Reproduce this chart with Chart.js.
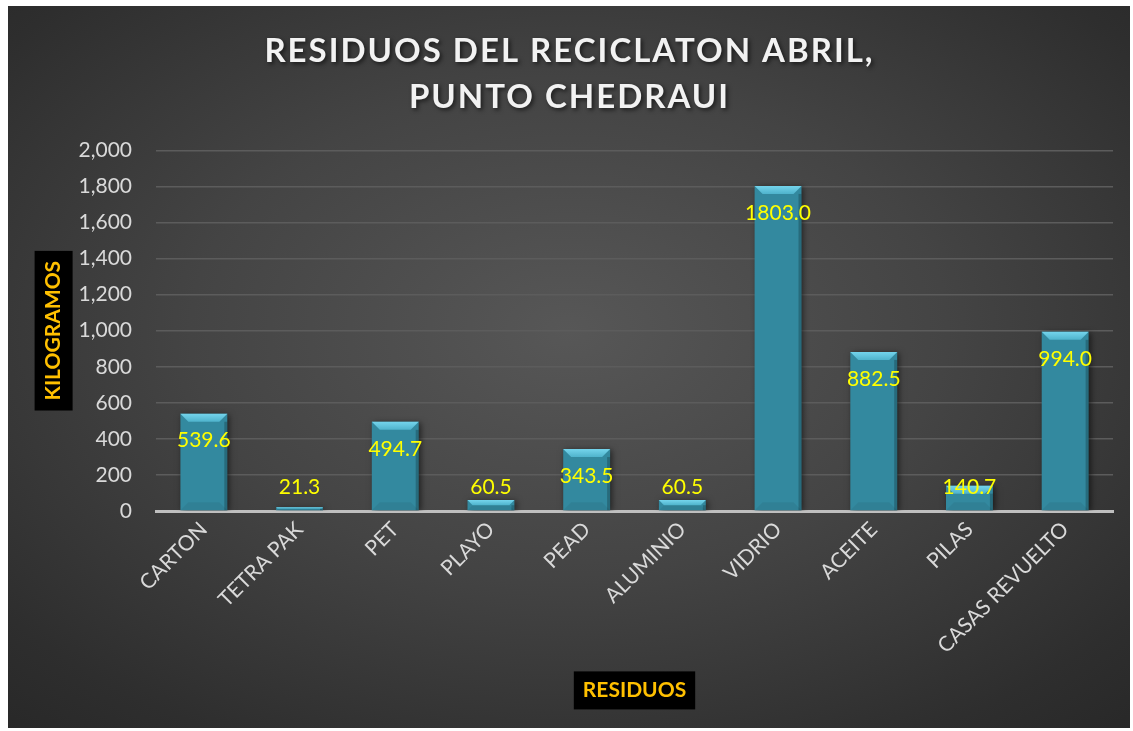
<!DOCTYPE html>
<html>
<head>
<meta charset="utf-8">
<script src="https://cdn.jsdelivr.net/npm/chart.js@4"></script>
<style>
  body { margin: 0; background: #ffffff; }
  #wrap {
    position: absolute; left: 8px; top: 6px; width: 1122px; height: 722px;
    background: radial-gradient(ellipse 75% 75% at 50% 45%, #575757 0%, #444444 45%, #2e2e2e 85%, #282828 100%);
  }
</style>
</head>
<body>
<div id="wrap"><canvas id="chart"></canvas></div>
<script>
const categorias = ["CARTON", "TETRA PAK", "PET", "PLAYO", "PEAD", "ALUMINIO", "VIDRIO", "ACEITE", "PILAS", "CASAS REVUELTO"];
const kilogramos = [539.6, 21.3, 494.7, 60.5, 343.5, 60.5, 1803.0, 882.5, 140.7, 994.0];
const titulo = ["RESIDUOS DEL RECICLATON ABRIL,", "PUNTO CHEDRAUI"];
const tituloY = "KILOGRAMOS";
const tituloX = "RESIDUOS";

const fuente = "Lato";

// espaciado y sombra del titulo
const tituloEspaciado = {
  id: "tituloEspaciado",
  afterInit(chart) {
    const tb = chart.titleBlock;
    if (!tb) return;
    const orig = tb.draw.bind(tb);
    tb.draw = function (area) {
      const ctx = chart.ctx;
      ctx.save();
      ctx.letterSpacing = "2px";
      ctx.shadowColor = "rgba(0,0,0,0.6)";
      ctx.shadowBlur = 4;
      ctx.shadowOffsetX = 2;
      ctx.shadowOffsetY = 2;
      orig(area);
      ctx.restore();
    };
  }
};

// cajas negras detras de los titulos de los ejes
const cajasTitulos = {
  id: "cajasTitulos",
  beforeDraw(chart) {
    const ctx = chart.ctx;
    ctx.save();
    ctx.font = "bold 21px " + fuente;
    const y = chart.scales.y;
    const lhY = 21 * 1.2;
    const cxY = y.left + y.options.title.padding.top + lhY / 2;
    const cyY = (y.top + y.bottom) / 2;
    const wY = ctx.measureText(tituloY).width + 20;
    ctx.fillStyle = "#000000";
    ctx.fillRect(cxY - 19, cyY - wY / 2, 38, wY);

    const x = chart.scales.x;
    const cxX = (x.left + x.right) / 2;
    const cyX = x.bottom - x.options.title.padding.bottom - lhY / 2;
    const wX = ctx.measureText(tituloX).width + 18;
    ctx.fillRect(cxX - wX / 2, cyX - 19, wX, 38);
    ctx.restore();
  }
};

// sombra de las barras
const sombra = {
  id: "sombra",
  beforeDatasetsDraw(chart) {
    const ctx = chart.ctx;
    ctx.save();
    ctx.shadowColor = "rgba(0,0,0,0.55)";
    ctx.shadowBlur = 6;
    ctx.shadowOffsetX = 2;
    ctx.shadowOffsetY = 1;
  },
  afterDatasetsDraw(chart) {
    chart.ctx.restore();
  }
};

// bisel superior y etiquetas
const etiquetas = {
  id: "etiquetas",
  afterDatasetsDraw(chart) {
    const ctx = chart.ctx;
    const meta = chart.getDatasetMeta(0);
    const base0 = chart.scales.y.getPixelForValue(0);
    ctx.save();
    meta.data.forEach(function (bar, i) {
      const left = bar.x - bar.width / 2;
      const right = bar.x + bar.width / 2;
      const top = bar.y;
      const h = bar.base - bar.y;
      const b = Math.min(8, h / 2);
      const g = ctx.createLinearGradient(0, top, 0, top + b);
      g.addColorStop(0, "#74d4ec");
      g.addColorStop(1, "#4fb3cc");
      ctx.fillStyle = g;
      ctx.beginPath();
      ctx.moveTo(left, top);
      ctx.lineTo(right, top);
      ctx.lineTo(right - b, top + b);
      ctx.lineTo(left + b, top + b);
      ctx.closePath();
      ctx.fill();
      ctx.fillStyle = "rgba(0,0,0,0.22)";
      ctx.fillRect(right - 3, top + b, 3, h - b);
      ctx.fillStyle = "rgba(0,0,0,0.06)";
      ctx.beginPath();
      ctx.moveTo(left, bar.base);
      ctx.lineTo(right, bar.base);
      ctx.lineTo(right - b, bar.base - b);
      ctx.lineTo(left + b, bar.base - b);
      ctx.closePath();
      ctx.fill();

      ctx.font = "21px " + fuente;
      ctx.fillStyle = "#ffff00";
      ctx.textAlign = "center";
      ctx.textBaseline = "middle";
      const ly = Math.min(top + 27, base0 - 24);
      ctx.fillText(kilogramos[i].toFixed(1), bar.x, ly);
    });
    ctx.restore();
  }
};

new Chart(document.getElementById("chart"), {
  type: "bar",
  data: {
    labels: categorias,
    datasets: [
      {
        label: "Kilogramos",
        data: kilogramos,
        backgroundColor: "#33899f",
        borderWidth: 0,
        barPercentage: 0.49,
        categoryPercentage: 1.0,
      },
    ],
  },
  options: {
    responsive: true,
    maintainAspectRatio: false,
    animation: false,
    layout: { padding: { left: 18, right: 17, top: 0, bottom: 0 } },
    plugins: {
      legend: { display: false },
      tooltip: { enabled: false },
      title: {
        display: true,
        text: titulo,
        color: "#f2f2f2",
        font: { family: fuente, size: 33, weight: "bold", lineHeight: 1.4 },
        padding: { top: 22, bottom: 30 },
      },
    },
    scales: {
      y: {
        min: 0,
        max: 2000,
        ticks: {
          stepSize: 200,
          color: "#d9d9d9",
          font: { family: fuente, size: 21 },
          padding: 24,
          callback: (v) => v.toLocaleString("en-US"),
        },
        grid: { color: "#5c5c5c", lineWidth: 1.5, drawTicks: false },
        border: { display: false },
        title: {
          display: true,
          text: tituloY,
          color: "#ffc000",
          font: { family: fuente, size: 21, weight: "bold", lineHeight: 1.2 },
          padding: { top: 15, bottom: 0 },
        },
        afterFit: (s) => { s.width = 130; },
      },
      x: {
        ticks: {
          color: "#d9d9d9",
          font: { family: fuente, size: 21 },
          minRotation: 45,
          maxRotation: 45,
          padding: 6,
        },
        grid: { display: false, drawTicks: false },
        border: { color: "#bfbfbf", width: 3 },
        title: {
          display: true,
          text: tituloX,
          color: "#ffc000",
          font: { family: fuente, size: 21, weight: "bold", lineHeight: 1.2 },
          padding: { top: 0, bottom: 25 },
        },
        afterFit: (s) => { s.height = 217; },
      },
    },
  },
  plugins: [tituloEspaciado, cajasTitulos, sombra, etiquetas],
});
</script>
</body>
</html>
